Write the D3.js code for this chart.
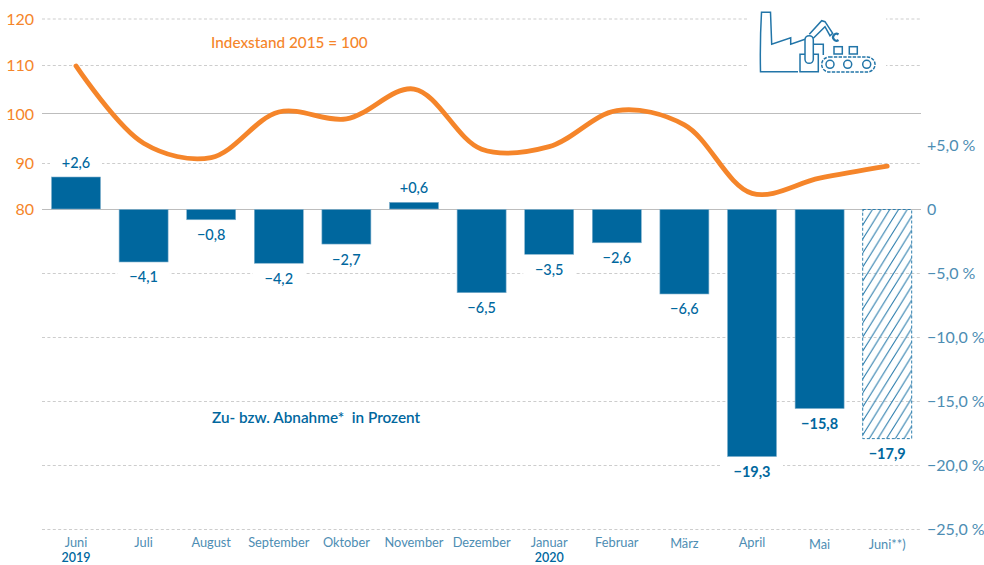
<!DOCTYPE html>
<html><head><meta charset="utf-8">
<script src="https://cdn.jsdelivr.net/npm/d3@7/dist/d3.min.js"></script>
<style>html,body{margin:0;padding:0;background:#fff}svg{display:block}text{font-family:Lato,"Open Sans",sans-serif}</style>
</head><body><svg id="c" width="984" height="565"></svg>
<script>
const months=["Juni","Juli","August","September","Oktober","November","Dezember","Januar","Februar","März","April","Mai","Juni**)"];
const changes=[2.5,-4.1,-0.8,-4.2,-2.7,0.52,-6.5,-3.5,-2.6,-6.6,-19.3,-15.55,-17.9];
const changeLabels=["+2,6","−4,1","−0,8","−4,2","−2,7","+0,6","−6,5","−3,5","−2,6","−6,6","−19,3","−15,8","−17,9"];
const indexValues=[109.8,94,91.1,100.3,98.9,105.05,92.8,93.3,100.6,97.7,83.4,86.7,89.3];
const indexTicks=[120,110,100,90,80];
const pctTicks=[5,0,-5,-10,-15,-20,-25];
const pctTickLabels=["+5,0 %","0","−5,0 %","−10,0 %","−15,0 %","−20,0 %","−25,0 %"];
const years=[["Juni","2019"],["Januar","2020"]];
const ORANGE="#f5852a",BLUE="#00679e",SOFT="#4d8db3",GRID="#cdcdcd",HATCH="#2f7fae";

const svg=d3.select("#c");
const defs=svg.append("defs");
const pat=defs.append("pattern").attr("id","hatch").attr("patternUnits","userSpaceOnUse")
  .attr("width",8.7).attr("height",14).attr("patternTransform","translate(864 209)");
pat.append("path").attr("d","M-1 15.6L9.7 -1.6M7.7 15.6L18.4 -1.6M-9.7 15.6L1 -1.6").attr("stroke",HATCH).attr("stroke-width",1.1).attr("fill","none");

const x=d3.scalePoint().domain(d3.range(months.length)).range([76,887.2]);
const barW=49;
const yP=d3.scaleLinear().domain([5,-25]).range([145,529]);
const yI=d3.scaleLinear().domain([80,90,100,110,120]).range([209,163,113.5,65,18.5]);

// grid
const gx0=42,gx1=921;
const g=svg.append("g");
[120,110,90].forEach(v=>g.append("line").attr("x1",gx0).attr("x2",gx1).attr("y1",yI(v)+.5).attr("y2",yI(v)+.5).attr("stroke",GRID).attr("stroke-dasharray","3 2.4"));
[-5,-10,-15,-20,-25].forEach(v=>g.append("line").attr("x1",gx0).attr("x2",gx1).attr("y1",Math.round(yP(v))+.5).attr("y2",Math.round(yP(v))+.5).attr("stroke",GRID).attr("stroke-dasharray","3 2.4"));
g.append("line").attr("x1",gx0).attr("x2",gx1).attr("y1",113.5).attr("y2",113.5).attr("stroke","#bdbdbd");
g.append("line").attr("x1",gx0).attr("x2",921).attr("y1",209.5).attr("y2",209.5).attr("stroke","#bdbdbd");

// icon background gap
svg.append("rect").attr("x",747).attr("y",5).attr("width",139).attr("height",72).attr("fill","#fff");

// bars
changes.forEach((v,i)=>{
  const hatched=i===changes.length-1;
  const y0=yP(0),y1=yP(v);
  const r=svg.append("rect").attr("x",x(i)-barW/2).attr("width",barW).attr("y",Math.min(y0,y1)+(v<0?.5:0)).attr("height",Math.abs(y1-y0));
  if(hatched) r.attr("fill","url(#hatch)").attr("stroke",HATCH).attr("stroke-width",1).attr("stroke-dasharray","3 2");
  else r.attr("fill",BLUE).attr("stroke","#7fb0cc").attr("stroke-width",.6);
});

// bar labels with white gap in the grid
changes.forEach((v,i)=>{
  const ly=v>=0?yP(v)-14:yP(v)+16;
  const hw=changeLabels[i].length*5+6;
  svg.append("rect").attr("x",x(i)-hw).attr("width",hw*2).attr("y",ly-8).attr("height",16).attr("fill","#fff");
  svg.append("text").attr("x",x(i)).attr("y",ly+5).attr("text-anchor","middle").attr("font-size",14.5)
    .attr("font-weight",i>=10?700:500).attr("fill",BLUE).text(changeLabels[i]);
});

// line
const line=d3.line().x((d,i)=>x(i)).y(d=>yI(d)).curve(d3.curveCatmullRom.alpha(.5));
svg.append("path").attr("d",line(indexValues)).attr("fill","none").attr("stroke",ORANGE).attr("stroke-width",4.8).attr("stroke-linecap","round");

// left axis
indexTicks.forEach(v=>svg.append("text").attr("x",34).attr("y",yI(v)+6).attr("text-anchor","end").attr("font-size",16).attr("fill",ORANGE).text(v));
// right axis
pctTicks.forEach((v,i)=>svg.append("text").attr("x",927).attr("y",yP(v)+6).attr("font-size",16).attr("fill",SOFT).text(pctTickLabels[i]));
// month axis
const monthDrop={"März":1,"Mai":2,"Juni**)":2};
months.forEach((m,i)=>svg.append("text").attr("x",x(i)).attr("y",546.8+(monthDrop[m]||0)).attr("text-anchor","middle").attr("font-size",12.8).attr("fill",SOFT).text(m));
years.forEach(([m,y])=>svg.append("text").attr("x",x(months.indexOf(m))).attr("y",562).attr("text-anchor","middle").attr("font-size",12.5).attr("font-weight",600).attr("fill",BLUE).text(y));

svg.append("text").attr("x",211).attr("y",48).attr("font-size",15.3).attr("font-weight",500).attr("fill",ORANGE).text("Indexstand 2015 = 100");
svg.append("text").attr("x",212).attr("y",423).attr("font-size",15.3).attr("font-weight",600).attr("fill",BLUE).style("white-space","pre").text("Zu- bzw. Abnahme*  in Prozent");

// icon
const ic=svg.append("g").attr("fill","none").attr("stroke","#2275a8").attr("stroke-width",1.5);
ic.append("path").attr("d","M798 71.7H760.5C760 50 760.5 30 761.5 12.3H770.5L771.7 44.3L790.7 37.7V44.3L805 39.3");
ic.append("path").attr("d","M805 54.3H800V71.7H818.3V54.3H813.3");
ic.append("rect").attr("x",805).attr("y",35.7).attr("width",8.3).attr("height",27.6).attr("rx",4.1);
ic.append("path").attr("d","M809.3 34.3L821.7 20.7L825 21.7L832.7 33.3L830 35.7L825 26.7L813.3 38.3M813.3 44.3H823.3V55");
ic.append("path").attr("d","M838.5 34.5A3.4 3.4 0 1 0 838.5 40").attr("stroke-width",2.2);
ic.append("rect").attr("x",834).attr("y",46.7).attr("width",8.3).attr("height",7.3);
ic.append("rect").attr("x",849.3).attr("y",46.7).attr("width",8).attr("height",7.3);
ic.append("rect").attr("x",821.7).attr("y",57).attr("width",53.3).attr("height",15).attr("rx",7.5).attr("stroke-dasharray","3.4 1.3");
[830,847.7,866.7].forEach(c=>ic.append("circle").attr("cx",c).attr("cy",64.3).attr("r",4));
</script></body></html>
